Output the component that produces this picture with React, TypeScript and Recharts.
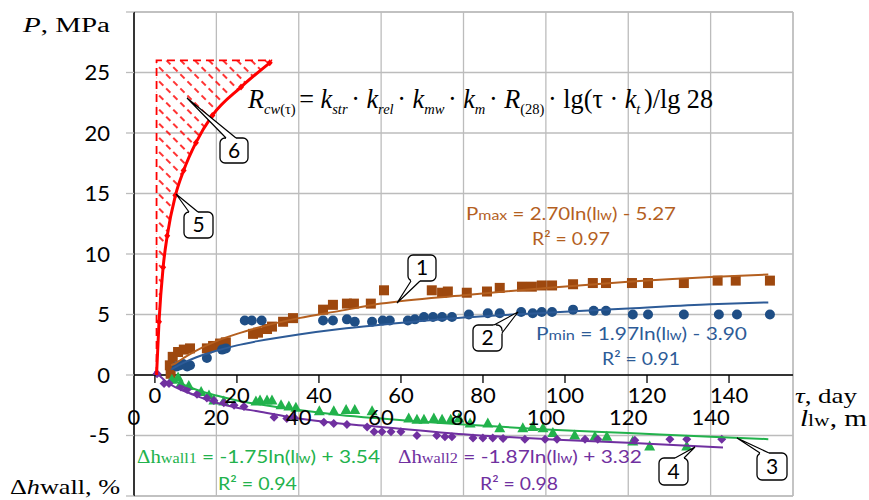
import React from 'react'
import {
  ComposedChart,
  XAxis,
  YAxis,
  CartesianGrid,
  Scatter,
  Line,
  Area,
  ReferenceLine,
} from 'recharts'

// ── Data ───────────────────────────────────────────────────────────────────────

// concrete strength growth, red curve (τ in days → P in MPa)
const TAU_DAYS = [0.4, 1, 2, 3, 5, 7, 10, 14, 21, 28]
const STRENGTH = [0, 4.4, 8.9, 11.5, 14.85, 16.9, 19.2, 21.45, 23.8, 25.8]
const STRENGTH_CAP = 26
const HATCH_END = 28.6

// 1 – Pmax (brown squares), lw in m
const PMAX_LW = [8.9, 8.7, 9.4, 10.7, 12.1, 13.6, 17.7, 19.2, 20.9, 22.3, 28.9, 30.1, 32.3, 33.5, 36.2, 38.6, 45.9, 48.3, 51.7, 53.4, 57.5, 60.7, 72.3, 74.8, 76.2, 80.8, 85.7, 88.8, 94.2, 96.6, 99, 101.5, 106.6, 111.4, 114.6, 120.9, 124.8, 133.5, 141.7, 146.1, 154.4]
const PMAX_VAL = [0.1, 0.8, 1.5, 1.9, 2.1, 2.2, 2.2, 2.4, 2.6, 2.7, 3.4, 3.5, 3.8, 4.0, 4.4, 4.7, 5.4, 5.8, 5.9, 5.9, 5.9, 7.0, 7.0, 6.8, 6.9, 6.8, 6.9, 7.2, 7.3, 7.3, 7.4, 7.4, 7.5, 7.6, 7.6, 7.6, 7.6, 7.6, 7.8, 7.8, 7.8]
const PMAX_FIT_LW = [9, 10, 12, 15, 20, 25, 30, 40, 50, 60, 80, 100, 120, 140, 154]
const PMAX_FIT = [0.8, 0.95, 1.4, 2.0, 2.8, 3.4, 3.9, 4.7, 5.3, 5.9, 6.6, 7.2, 7.7, 8.1, 8.3]

// 2 – Pmin (blue circles)
const PMIN_LW = [10.4, 11.2, 11.9, 12.9, 13.6, 17.7, 21.4, 22.3, 26.9, 28.6, 31, 45.9, 48.3, 51.7, 53.6, 57.8, 60.4, 62.1, 66.5, 68.2, 70.4, 72.6, 74.8, 77.2, 81.3, 85.9, 88.8, 94, 96.8, 99, 101.5, 106.6, 111.6, 114.6, 121.1, 124.8, 133.5, 142, 146.4, 154.4]
const PMIN_VAL = [0.7, 0.8, 0.9, 0.7, 0.8, 1.4, 2.1, 2.2, 4.5, 4.5, 4.5, 4.5, 4.5, 4.6, 4.4, 4.4, 4.5, 4.5, 4.5, 4.6, 4.8, 4.8, 4.8, 4.8, 5.0, 5.1, 5.1, 5.2, 5.1, 5.2, 5.2, 5.4, 5.3, 5.3, 5.0, 5.0, 5.0, 5.0, 5.0, 5.0]
const PMIN_FIT_LW = [9, 10, 12, 15, 20, 25, 30, 40, 50, 60, 80, 100, 120, 140, 154]
const PMIN_FIT = [0.45, 0.65, 1.0, 1.45, 2.0, 2.45, 2.8, 3.35, 3.8, 4.15, 4.75, 5.15, 5.5, 5.85, 6.0]

// 3 – Δh wall 1 (green triangles), %
const DH1_LW = [9.2, 10.7, 11.4, 13.3, 16.3, 18.2, 19.4, 21.8, 29.6, 30.6, 32.3, 33.5, 35.7, 37.6, 39.3, 45, 48.5, 51.5, 53.6, 57.8, 66.7, 68.7, 70.4, 72.8, 74.8, 76.9, 78.9, 81.6, 85.9, 88.8, 94.4, 96.8, 99.3, 101.7, 107, 111.9, 114.8, 121.1, 125.2, 134.2]
const DH1_VAL = [-0.4, -0.2, -0.7, -0.9, -1.4, -1.7, -2.1, -2.2, -2.2, -2.1, -2.1, -2.1, -2.5, -2.6, -2.7, -3.0, -3.0, -2.9, -2.9, -3.0, -3.6, -3.7, -3.7, -3.6, -3.7, -3.7, -3.6, -4.0, -4.0, -4.4, -4.4, -4.3, -4.4, -4.8, -5.0, -5.1, -5.1, -5.5, -5.9, -5.9]
const DH1_FIT_LW = [9, 10, 12, 15, 20, 25, 30, 40, 50, 60, 80, 100, 120, 140, 154]
const DH1_FIT = [-0.3, -0.5, -0.8, -1.2, -1.7, -2.1, -2.4, -2.9, -3.3, -3.6, -4.1, -4.5, -4.8, -5.1, -5.3]

// 4 – Δh wall 2 (purple diamonds), %
const DH2_LW = [5.6, 7.3, 8.5, 11.4, 12.9, 15.3, 17.7, 19.4, 21.8, 24.3, 26.7, 34, 37.1, 38.8, 46.1, 48.5, 51.7, 56.6, 58.3, 60.2, 62.4, 64.8, 68.7, 73.5, 75.5, 77.2, 82.3, 84.7, 87.1, 89.6, 94.9, 99.8, 102.7, 109.5, 112.6, 121.6, 130.1, 134.2, 142.7]
const DH2_VAL = [0.1, -0.7, -0.7, -1.0, -1.2, -1.6, -1.9, -2.1, -2.3, -2.5, -2.6, -3.5, -3.6, -3.5, -3.9, -4.0, -4.1, -4.3, -4.7, -4.7, -4.7, -4.7, -5.0, -5.0, -5.1, -5.1, -5.2, -5.2, -5.2, -5.25, -5.3, -5.3, -5.3, -5.3, -5.3, -5.4, -5.3, -5.3, -5.3]
const DH2_FIT_LW = [5, 6, 8, 10, 12, 15, 20, 25, 30, 40, 50, 60, 80, 100, 120, 143]
const DH2_FIT = [0.3, 0.0, -0.6, -1.0, -1.3, -1.7, -2.3, -2.7, -3.0, -3.6, -4.0, -4.3, -4.9, -5.3, -5.6, -6.0]

// ticks
const Y_TICKS = [-10, -5, 0, 5, 10, 15, 20, 25, 30]
const LW_TICKS = [0, 20, 40, 60, 80, 100, 120, 140, 160]
const TAU_TICKS = [0, 20, 40, 60, 80, 100, 120, 140]

// ── Layout ─────────────────────────────────────────────────────────────────────

const W = 869
const H = 500
const TOP = 12
const BOTTOM = 496
const Y_MIN = -10
const Y_MAX = 30
const TAU_DOMAIN: [number, number] = [-5.1, 155.6]
const Y_ZERO = TOP + ((Y_MAX - 0) / (Y_MAX - Y_MIN)) * (BOTTOM - TOP)

const GRID = '#BCBCBC'
const RED = '#FF0000'
const BROWN_MK = '#9E480E'
const BROWN = '#B45F1F'
const BLUE_MK = '#1F4E85'
const BLUE = '#2D5B97'
const GREEN = '#22B24C'
const PURPLE = '#7030A0'

const SANS = 'Lato, "Open Sans", sans-serif'
const SERIF = '"Liberation Serif", "Times New Roman", serif'

const zipLw = (xs: number[], ys: number[]) => xs.map((x, i) => ({ x, y: ys[i] }))

const strengthData = TAU_DAYS.map((t, i) => ({ t, y: STRENGTH[i] }))
const hatchData = TAU_DAYS.map((t, i) => ({ t, band: [STRENGTH[i], STRENGTH_CAP] }))
const hatchOutline = [
  { t: TAU_DAYS[0], y: 0 },
  { t: TAU_DAYS[0], y: STRENGTH_CAP },
  { t: HATCH_END, y: STRENGTH_CAP },
]

// ── Ticks & shapes ─────────────────────────────────────────────────────────────

function YTick({ y, payload }: any) {
  const v = payload.value
  if (v === Y_MIN || v === Y_MAX) return <g />
  return (
    <text x={110} y={y} dy={7.5} textAnchor="end" fontFamily={SANS} fontSize={22} fill="#000">
      {v}
    </text>
  )
}

function LwTick({ x, payload }: any) {
  if (payload.value >= 160) return <g />
  return (
    <text x={x} y={425} textAnchor="middle" fontFamily={SANS} fontSize={22} fill="#000">
      {payload.value}
    </text>
  )
}

function TauTick({ x, payload }: any) {
  return (
    <g>
      <line x1={x} y1={Y_ZERO} x2={x} y2={Y_ZERO + 8} stroke="#000" strokeWidth={1.3} />
      <text x={x} y={403} textAnchor="middle" fontFamily={SANS} fontSize={22} fill="#000">
        {payload.value}
      </text>
    </g>
  )
}

const squareShape = (p: any) => (
  <rect x={p.cx - 5} y={p.cy - 5} width={10} height={10} fill={BROWN_MK} />
)
const circleShape = (p: any) => <circle cx={p.cx} cy={p.cy} r={5} fill={BLUE_MK} />
const triangleShape = (p: any) => (
  <polygon
    points={`${p.cx},${p.cy - 6} ${p.cx + 5.5},${p.cy + 4} ${p.cx - 5.5},${p.cy + 4}`}
    fill={GREEN}
  />
)
const diamondShape = (p: any) => (
  <polygon
    points={`${p.cx},${p.cy - 4.5} ${p.cx + 4.5},${p.cy} ${p.cx},${p.cy + 4.5} ${p.cx - 4.5},${p.cy}`}
    fill={PURPLE}
  />
)

function RedDot(p: any) {
  if (p.index === 0) return <g key={`rd${p.index}`} />
  const { cx, cy } = p
  return (
    <polygon
      key={`rd${p.index}`}
      points={`${cx},${cy - 3.5} ${cx + 3},${cy} ${cx},${cy + 3.5} ${cx - 3},${cy}`}
      fill={RED}
    />
  )
}

// ── Annotations ────────────────────────────────────────────────────────────────

function Callout({ box, base, tip, label }: { box: number[]; base: number[]; tip: number[]; label: string }) {
  const [bx, by, bw, bh] = box
  return (
    <g>
      <polygon
        points={`${base[0]},${base[1]} ${base[2]},${base[3]} ${tip[0]},${tip[1]}`}
        fill="#fff"
      />
      <rect x={bx} y={by} width={bw} height={bh} rx={5} fill="#fff" stroke="#000" strokeWidth={1.3} />
      <polygon
        points={`${base[0]},${base[1]} ${base[2]},${base[3]} ${(base[0] + base[2]) / 2},${(base[1] + base[3]) / 2}`}
        fill="#fff"
        stroke="#fff"
        strokeWidth={2}
      />
      <polyline
        points={`${base[0]},${base[1]} ${tip[0]},${tip[1]} ${base[2]},${base[3]}`}
        fill="none"
        stroke="#000"
        strokeWidth={1.2}
      />
      <text x={bx + bw / 2} y={by + bh / 2 + 7} textAnchor="middle" fontFamily={SANS} fontSize={21} fill="#000">
        {label}
      </text>
    </g>
  )
}

function Fit({ x, y, len, color, lead, rest }: any) {
  return (
    <text x={x} y={y} textLength={len} lengthAdjust="spacingAndGlyphs" fontFamily={SANS} fontSize={18} fill={color}>
      {lead}
      <tspan>{rest[0]}</tspan>
      <tspan fontSize={13}>lw</tspan>
      <tspan>{rest[1]}</tspan>
    </text>
  )
}

const FORMULA_Y = 108
const SUB_Y = FORMULA_Y + 6

function Overlay() {
  const sub = (s: string, italic = true) => (
    <tspan fontSize={15} y={SUB_Y} fontStyle={italic ? 'italic' : 'normal'}>{s}</tspan>
  )
  const main = (s: string, italic = false) => (
    <tspan y={FORMULA_Y} fontStyle={italic ? 'italic' : 'normal'}>{s}</tspan>
  )
  return (
    <svg width={W} height={H} style={{ position: 'absolute', left: 0, top: 0, pointerEvents: 'none' }}>
      {/* axis titles */}
      <text x={23} y={32} textLength={87} lengthAdjust="spacingAndGlyphs" fontFamily={SERIF} fontSize={20}>
        <tspan fontStyle="italic">P</tspan>, MPa
      </text>
      <text x={10} y={494} textLength={110} lengthAdjust="spacingAndGlyphs" fontFamily={SERIF} fontSize={21}>
        Δ<tspan fontStyle="italic">h</tspan>wall, %
      </text>
      <text x={795} y={403} textLength={62} lengthAdjust="spacingAndGlyphs" fontFamily={SERIF} fontSize={22}>
        <tspan fontStyle="italic">τ</tspan>, day
      </text>
      <text x={800} y={426} textLength={67} lengthAdjust="spacingAndGlyphs" fontFamily={SERIF} fontSize={23}>
        <tspan fontStyle="italic">l</tspan>
        <tspan fontSize={17}>lw</tspan>, m
      </text>

      {/* strength formula */}
      <text x={248} y={FORMULA_Y} textLength={465} lengthAdjust="spacingAndGlyphs" fontFamily={SERIF} fontSize={27}>
        {main('R', true)}
        {sub('cw')}
        {sub('(τ) ', false)}
        {main('= ')}
        {main('k', true)}
        {sub('str ')}
        {main('· ')}
        {main('k', true)}
        {sub('rel ')}
        {main('· ')}
        {main('k', true)}
        {sub('mw ')}
        {main('· ')}
        {main('k', true)}
        {sub('m ')}
        {main('· ')}
        {main('R', true)}
        {sub('(28) ', false)}
        {main('· lg(τ · ')}
        {main('k', true)}
        {sub('t ')}
        {main(')/lg 28')}
      </text>

      {/* trend equations */}
      <Fit x={466} y={220} len={210} color={BROWN} lead={<>P<tspan fontSize={14}>max</tspan></>} rest={[' = 2.70ln(l', ') - 5.27']} />
      <text x={532} y={245} textLength={78} lengthAdjust="spacingAndGlyphs" fontFamily={SANS} fontSize={18} fill={BROWN}>R² = 0.97</text>
      <Fit x={536} y={340} len={211} color={BLUE} lead={<>P<tspan fontSize={14}>min</tspan></>} rest={[' = 1.97ln(l', ') - 3.90']} />
      <text x={602} y={365} textLength={78} lengthAdjust="spacingAndGlyphs" fontFamily={SANS} fontSize={18} fill={BLUE}>R² = 0.91</text>
      <Fit
        x={137}
        y={463}
        len={243}
        color={GREEN}
        lead={<tspan fontFamily={SERIF}>Δh<tspan fontSize={14}>wall1</tspan></tspan>}
        rest={[' = -1.75ln(l', ') + 3.54']}
      />
      <text x={218} y={490} textLength={79} lengthAdjust="spacingAndGlyphs" fontFamily={SANS} fontSize={18} fill={GREEN}>R² = 0.94</text>
      <Fit
        x={398}
        y={463}
        len={244}
        color={PURPLE}
        lead={<tspan fontFamily={SERIF}>Δh<tspan fontSize={14}>wall2</tspan></tspan>}
        rest={[' = -1.87ln(l', ') + 3.32']}
      />
      <text x={480} y={490} textLength={78} lengthAdjust="spacingAndGlyphs" fontFamily={SANS} fontSize={18} fill={PURPLE}>R² = 0.98</text>

      {/* numbered callouts */}
      <Callout box={[220, 138, 28, 25]} base={[226, 138, 236, 138]} tip={[187, 98]} label="6" />
      <Callout box={[184, 212, 29, 26]} base={[189, 212, 198, 212]} tip={[176, 194]} label="5" />
      <Callout box={[408, 255, 28, 26]} base={[411, 281, 420, 281]} tip={[397, 303]} label="1" />
      <Callout box={[473, 325, 29, 26]} base={[494, 325, 502, 333]} tip={[518, 312]} label="2" />
      <Callout box={[659, 458, 29, 27]} base={[675, 458, 684, 458]} tip={[695, 447]} label="4" />
      <Callout box={[757, 453, 30, 27]} base={[760, 453, 769, 453]} tip={[737, 438]} label="3" />
    </svg>
  )
}

// ── Component ──────────────────────────────────────────────────────────────────

export default function App() {
  return (
    <div style={{ position: 'absolute', left: 0, top: 0, width: W, height: H, background: '#fff' }}>
      <ComposedChart width={W} height={H} margin={{ top: TOP, right: 76, bottom: H - BOTTOM - 2, left: 0 }}>
        <defs>
          <pattern id="hatch" width={10} height={10} patternUnits="userSpaceOnUse" patternTransform="rotate(-45)">
            <line x1={5} y1={0} x2={5} y2={10} stroke={RED} strokeWidth={1.6} strokeDasharray="6 4" />
          </pattern>
        </defs>

        <CartesianGrid xAxisId="lw" stroke={GRID} strokeWidth={1.3} />

        <XAxis
          xAxisId="lw"
          dataKey="x"
          type="number"
          domain={[0, 160]}
          ticks={LW_TICKS}
          interval={0}
          height={1}
          axisLine={false}
          tickLine={false}
          tick={<LwTick />}
        />
        <XAxis
          xAxisId="tau"
          dataKey="t"
          type="number"
          domain={TAU_DOMAIN}
          allowDataOverflow
          ticks={TAU_TICKS}
          interval={0}
          height={1}
          axisLine={false}
          tickLine={false}
          tick={<TauTick />}
        />
        <YAxis
          dataKey="y"
          type="number"
          domain={[Y_MIN, Y_MAX]}
          ticks={Y_TICKS}
          interval={0}
          width={134}
          axisLine={{ stroke: '#000', strokeWidth: 1.5 }}
          tickLine={{ stroke: GRID, strokeWidth: 1.3 }}
          tickSize={8}
          tick={<YTick />}
        />

        <ReferenceLine xAxisId="lw" y={Y_MAX} stroke={GRID} strokeWidth={1.3} />
        <ReferenceLine xAxisId="lw" y={Y_MIN} stroke={GRID} strokeWidth={1.3} />
        <ReferenceLine xAxisId="lw" x={160} stroke={GRID} strokeWidth={1.3} />
        <ReferenceLine xAxisId="lw" y={0} stroke="#000" strokeWidth={1.5} />

        {/* hatched strength region */}
        <Area
          xAxisId="tau"
          data={hatchData}
          dataKey="band"
          type="monotone"
          stroke="none"
          fill="url(#hatch)"
          fillOpacity={1}
          isAnimationActive={false}
        />
        <Line
          xAxisId="tau"
          data={hatchOutline}
          dataKey="y"
          type="linear"
          stroke={RED}
          strokeWidth={1.8}
          strokeDasharray="8 5"
          dot={false}
          isAnimationActive={false}
        />

        <Scatter xAxisId="lw" data={zipLw(PMAX_LW, PMAX_VAL)} shape={squareShape} isAnimationActive={false} />
        <Scatter xAxisId="lw" data={zipLw(PMIN_LW, PMIN_VAL)} shape={circleShape} isAnimationActive={false} />
        <Scatter xAxisId="lw" data={zipLw(DH1_LW, DH1_VAL)} shape={triangleShape} isAnimationActive={false} />
        <Scatter xAxisId="lw" data={zipLw(DH2_LW, DH2_VAL)} shape={diamondShape} isAnimationActive={false} />

        <Line xAxisId="lw" data={zipLw(PMAX_FIT_LW, PMAX_FIT)} dataKey="y" type="monotone" stroke={BROWN} strokeWidth={2} dot={false} isAnimationActive={false} zIndex={700} />
        <Line xAxisId="lw" data={zipLw(PMIN_FIT_LW, PMIN_FIT)} dataKey="y" type="monotone" stroke={BLUE} strokeWidth={2} dot={false} isAnimationActive={false} zIndex={700} />
        <Line xAxisId="lw" data={zipLw(DH1_FIT_LW, DH1_FIT)} dataKey="y" type="monotone" stroke={GREEN} strokeWidth={2} dot={false} isAnimationActive={false} zIndex={700} />
        <Line xAxisId="lw" data={zipLw(DH2_FIT_LW, DH2_FIT)} dataKey="y" type="monotone" stroke={PURPLE} strokeWidth={2} dot={false} isAnimationActive={false} zIndex={700} />

        <Line
          xAxisId="tau"
          data={strengthData}
          dataKey="y"
          type="monotone"
          stroke={RED}
          strokeWidth={3}
          dot={RedDot}
          isAnimationActive={false}
          zIndex={800}
        />
      </ComposedChart>
      <Overlay />
    </div>
  )
}
